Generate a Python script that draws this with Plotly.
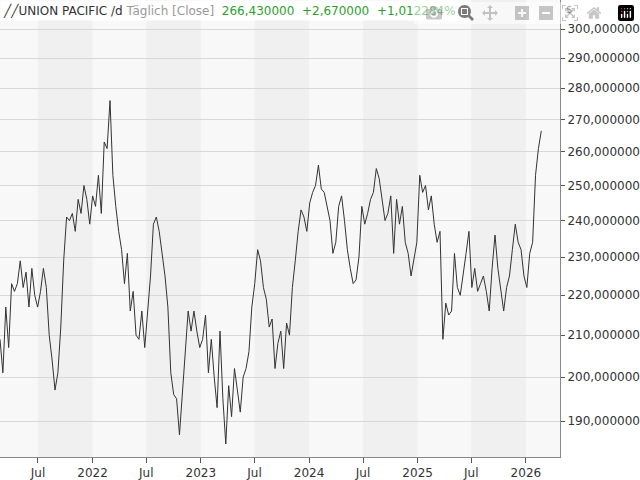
import plotly.graph_objects as go
import pandas as pd

start_date = "2021-02-23"
end_date = "2026-02-22"
prices = [209,201,217,207,223,221,223,229,222,226,217,227,220,217,221,227,222,210,204,197,201,212,229,241,240,242,237,246,242,250,246,239,247,244,253,242,263,261,276,253,244,237,232,223,231,216,221,210,209,216,207,217,225,239,241,237,231,225,217,201,196,195,187,196,207,216,211,216,211,207,209,215,201,209,200,193,211,195,185,198,191,202,197,192,200,202,206,217,223,232,229,222,219,212,214,202,208,211,202,213,210,222,229,237,243,241,237,245,248,250,256,249,248,244,240,231,234,244,247,240,232,227,223,224,230,244,239,242,246,248,255,252,246,240,242,247,231,246,239,244,234,231,225,229,234,253,248,250,243,247,239,234,237,209,218,215,216,231,222,220,225,231,237,222,227,221,223,225,221,216,227,236,227,222,216,222,225,232,239,234,232,225,222,231,234,253,261,266.43]
dates = pd.date_range(start_date, end_date, periods=len(prices))

grid_vals = [190,200,210,220,230,240,250,260,270,280,290,300]
grid_text = [f"{v},000000" for v in grid_vals]
tick_dates = ["2021-07-01","2022-01-01","2022-07-01","2023-01-01","2023-07-01","2024-01-01","2024-07-01","2025-01-01","2025-07-01","2026-01-01"]
tick_text = ["Jul","2022","Jul","2023","Jul","2024","Jul","2025","Jul","2026"]
band_starts = ["2021-07-01","2022-07-01","2023-07-01","2024-07-01","2025-07-01"]
band_ends = ["2022-01-01","2023-01-01","2024-01-01","2025-01-01","2026-01-01"]

fig = go.Figure(go.Scatter(x=dates, y=prices, mode="lines", line=dict(color="#333333", width=1), hoverinfo="skip"))
for s, e in zip(band_starts, band_ends):
    fig.add_shape(type="rect", xref="x", yref="paper", x0=s, x1=e, y0=0, y1=1, fillcolor="#f0f0f0", line_width=0, layer="below")

fig.update_layout(
    width=640, height=480, margin=dict(l=0, r=75, t=0, b=22),
    paper_bgcolor="white", plot_bgcolor="#f8f8f8", showlegend=False,
    font=dict(family="DejaVu Sans", size=12, color="#333333"),
    xaxis=dict(range=["2021-02-23","2026-04-26"], tickvals=tick_dates, ticktext=tick_text,
               showgrid=False, ticks="outside", ticklen=5, tickcolor="#555", showline=True,
               linecolor="#888", mirror=False, zeroline=False),
    yaxis=dict(type="log", range=[2.2606, 2.4918], side="right", tickvals=grid_vals, ticktext=grid_text,
               showgrid=True, gridcolor="#d8d8d8", ticks="outside", ticklen=4, tickcolor="#555",
               showline=True, linecolor="#888", zeroline=False),
    annotations=[
        dict(xref="paper", yref="paper", x=0, y=1, xanchor="left", yanchor="top", showarrow=False,
             bgcolor="white", borderpad=2,
             text="<span style='color:#333'>╱╱UNION PACIFIC /d</span> <span style='color:#999'>Täglich [Close]</span> "
                  "<span style='color:#2ca02c'> 266,430000 &nbsp;+2,670000 &nbsp;+1,012284%</span>",
             font=dict(size=12)),
        dict(xref="paper", yref="paper", x=1.008, y=0.995, xanchor="left", yanchor="top", showarrow=False,
             text="$", font=dict(size=10)),
    ],
)
fig.write_html("out.html", post_script="document.body.style.margin='0';document.body.style.overflow='hidden';")
